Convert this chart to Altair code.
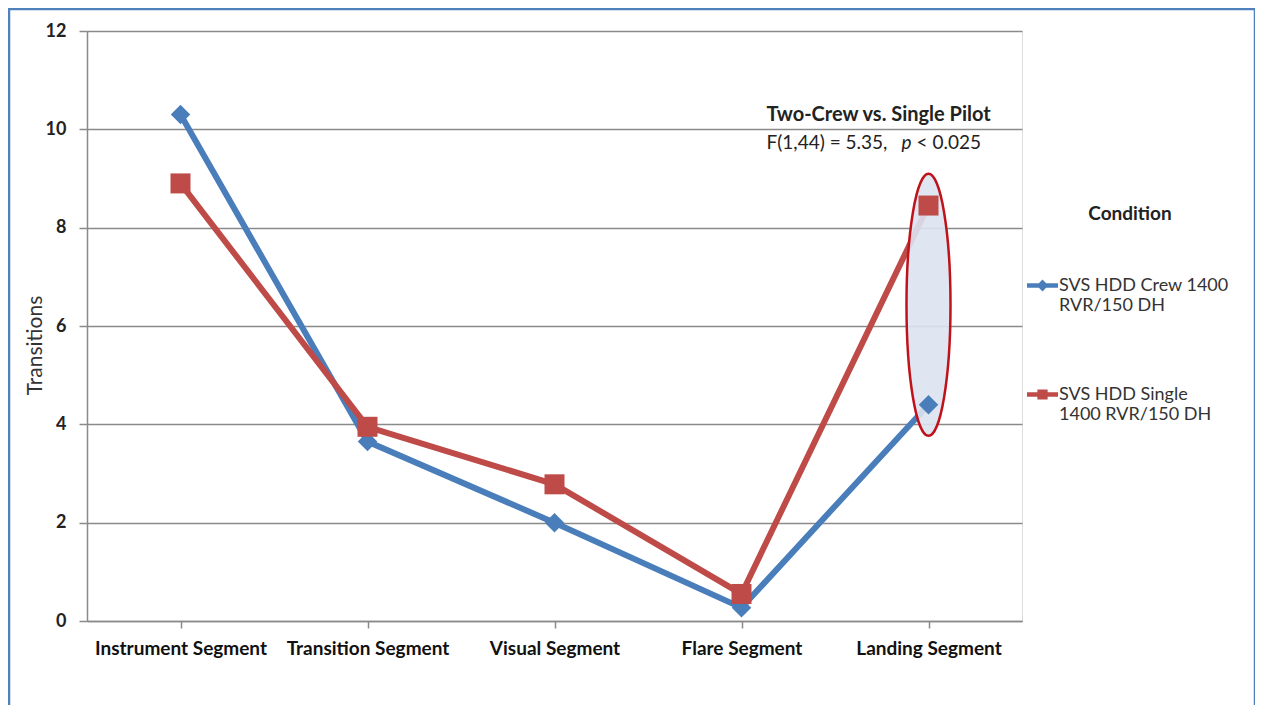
import altair as alt
import pandas as pd

segments = ["Instrument Segment", "Transition Segment", "Visual Segment", "Flare Segment", "Landing Segment"]
crew_name = "SVS HDD Crew 1400 RVR/150 DH"
single_name = "SVS HDD Single 1400 RVR/150 DH"
crew_values = [10.3, 3.65, 2.0, 0.27, 4.4]
single_values = [8.9, 3.95, 2.78, 0.55, 8.45]
conditions = [crew_name, single_name]
colors = ["#4a7ebb", "#be4b48"]
y_ticks = [0, 2, 4, 6, 8, 10, 12]

ann_segment = "Landing Segment"
ann_title = "Two-Crew vs. Single Pilot"
ann_stat = "F(1,44) = 5.35,"
ann_p = "p"
ann_rest = "< 0.025"
ann_title_y = 10.29
ann_stat_y = 9.73
ellipse_y = 6.43

rows = []
for s, v in zip(segments, crew_values):
    rows.append({"Segment": s, "Condition": crew_name, "Transitions": v})
for s, v in zip(segments, single_values):
    rows.append({"Segment": s, "Condition": single_name, "Transitions": v})
df = pd.DataFrame(rows)

FONT = "Lato"
W, H = 935, 590

x_enc = alt.X("Segment:N", sort=segments,
              scale=alt.Scale(paddingInner=0, paddingOuter=0),
              axis=alt.Axis(title=None, labelAngle=0, bandPosition=0, grid=False))
y_enc = alt.Y("Transitions:Q", scale=alt.Scale(domain=[0, 12], nice=False),
              axis=alt.Axis(values=y_ticks, title="Transitions", grid=True, titleY=314))

color_scale = alt.Scale(domain=conditions, range=colors)

base = alt.Chart(df)

# annotation ellipse
k = 0.5523
a = 0.168
ellipse_path = (f"M0,-1 C{a*k:.4f},-1 {a},-{k} {a},0 C{a},{k} {a*k:.4f},1 0,1 "
                f"C-{a*k:.4f},1 -{a},{k} -{a},0 C-{a},-{k} -{a*k:.4f},-1 0,-1 Z")
ann_df = pd.DataFrame([{"Segment": ann_segment, "Transitions": ellipse_y}])
ellipse = alt.Chart(ann_df).mark_point(
    shape=ellipse_path, size=262 * 262, filled=False, fill="#dce3f0", fillOpacity=0.9,
    stroke="#c0121a", strokeWidth=2.5, opacity=1
).encode(x=alt.X("Segment:N", sort=segments), y="Transitions:Q")

lines = base.mark_line(strokeWidth=6).encode(
    x=x_enc, y=y_enc,
    color=alt.Color("Condition:N", scale=color_scale, legend=None),
    detail="Condition:N")

points = base.mark_point(filled=True, opacity=1).encode(
    x=alt.X("Segment:N", sort=segments), y="Transitions:Q",
    color=alt.Color("Condition:N", scale=color_scale, legend=None),
    shape=alt.Shape("Condition:N", scale=alt.Scale(domain=conditions, range=["diamond", "square"]),
                    legend=None),
    size=alt.Size("Condition:N", scale=alt.Scale(domain=conditions, range=[380, 400]), legend=None))

# legend carrier (no data drawn, legend from explicit scale domains)
diamond_line = "M-1,-0.15L1,-0.15L1,0.15L-1,0.15Z M0,-0.38L0.38,0L0,0.38L-0.38,0Z"
square_line = "M-1,-0.15L1,-0.15L1,0.15L-1,0.15Z M-0.33,-0.33L0.33,-0.33L0.33,0.33L-0.33,0.33Z"
label_expr = ("datum.label == '" + crew_name + "' ? ['SVS HDD Crew  1400', 'RVR/150 DH'] : "
              "['SVS HDD Single', '1400 RVR/150 DH']")
legend_layer = base.mark_point(filled=True, opacity=1).encode(
    x=alt.X("Segment:N", sort=segments), y="Transitions:Q",
    color=alt.Color("Condition:N", scale=color_scale,
                    legend=alt.Legend(orient="none", legendX=940, legendY=174, padding=0,
                                      title="Condition", titleFontSize=19, titleFont=FONT,
                                      titleFontWeight="bold", titleColor="#222222",
                                      titleAnchor="middle", titlePadding=46,
                                      labelFontSize=18, labelFont=FONT, labelColor="#333333",
                                      labelLimit=400, labelExpr=label_expr, labelOffset=1,
                                      symbolSize=961, symbolStrokeWidth=0, rowPadding=64)),
    shape=alt.Shape("Condition:N", scale=alt.Scale(domain=conditions, range=[diamond_line, square_line]))
).transform_filter(alt.datum.Transitions < -100)

# annotation texts
t1 = alt.Chart(pd.DataFrame([{"Segment": ann_segment, "Transitions": ann_title_y, "t": ann_title}])).mark_text(
    align="left", baseline="middle", dx=-162, fontSize=20, font=FONT, fontWeight="bold", color="#222222"
).encode(x=alt.X("Segment:N", sort=segments), y="Transitions:Q", text="t:N")
t2 = alt.Chart(pd.DataFrame([{"Segment": ann_segment, "Transitions": ann_stat_y, "t": ann_stat}])).mark_text(
    align="left", baseline="middle", dx=-162, fontSize=19, font=FONT, color="#222222"
).encode(x=alt.X("Segment:N", sort=segments), y="Transitions:Q", text="t:N")
t3 = alt.Chart(pd.DataFrame([{"Segment": ann_segment, "Transitions": ann_stat_y, "t": ann_p}])).mark_text(
    align="left", baseline="middle", dx=-27, fontSize=19, font=FONT, fontStyle="italic", color="#222222"
).encode(x=alt.X("Segment:N", sort=segments), y="Transitions:Q", text="t:N")
t4 = alt.Chart(pd.DataFrame([{"Segment": ann_segment, "Transitions": ann_stat_y, "t": ann_rest}])).mark_text(
    align="left", baseline="middle", dx=-12, fontSize=19, font=FONT, color="#222222"
).encode(x=alt.X("Segment:N", sort=segments), y="Transitions:Q", text="t:N")

frame = alt.Chart(pd.DataFrame([{"a": 1}])).mark_rect(
    fill="transparent", stroke="#4f81bd", strokeWidth=2.5
).encode(x=alt.value(-78), x2=alt.value(1168), y=alt.value(-22), y2=alt.value(720))

chart = alt.layer(frame, lines, ellipse, points, legend_layer, t1, t2, t3, t4).resolve_scale(
    color="independent", shape="independent"
).properties(
    width=W, height=H,
    autosize=alt.AutoSizeParams(type="none"),
    padding={"left": 79, "top": 23, "right": 233, "bottom": 84}
).configure_view(stroke=None).configure(background="white").configure_axisX(
    labelFontSize=19, labelFont=FONT, labelFontWeight="bold", labelColor="#111111",
    labelPadding=11, tickSize=7, tickColor="#8a8a8a", tickWidth=1.5,
    domainColor="#8a8a8a", domainWidth=1.5
).configure_axisY(
    titleFontSize=21, titleFont=FONT, titleFontWeight="normal", titleColor="#333333",
    titlePadding=0, labelFontSize=18, labelFont=FONT, labelColor="#222222",
    labelFontWeight="bold", labelPadding=13, tickSize=8, tickColor="#8a8a8a", tickWidth=1.5,
    domainColor="#8a8a8a", domainWidth=1.5, gridColor="#8a8a8a", gridWidth=1.5
)

chart.save("out.html", embed_options={"renderer": "svg", "actions": False})
